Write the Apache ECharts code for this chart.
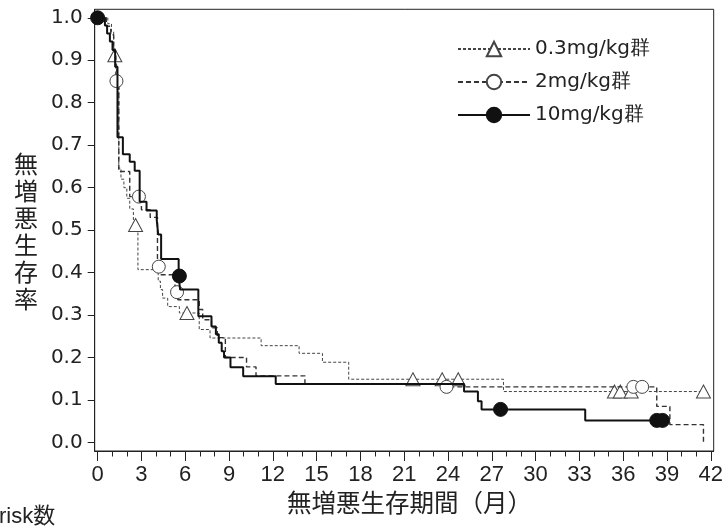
<!DOCTYPE html>
<html><head><meta charset="utf-8">
<script src="https://cdn.jsdelivr.net/npm/echarts@6/dist/echarts.min.js"></script>
<style>html,body{margin:0;padding:0;background:#fff}#c{width:726px;height:529px}</style>
</head><body><div id="c"></div>
<script>
// ---- data ----
const seriesNames = ['0.3mg/kg群', '2mg/kg群', '10mg/kg群'];
const xTicks = [0, 3, 6, 9, 12, 15, 18, 21, 24, 27, 30, 33, 36, 39, 42];
const xMinorTicks = [0,1,2,3,4,5,6,7,8,9,10,11,12,13,14,15,16,17,18,19,20,21,22,23,24,25,26,27,28,29,30,31,32,33,34,35,36,37,38,39,40,41,42];
const yTicks = [0.0, 0.1, 0.2, 0.3, 0.4, 0.5, 0.6, 0.7, 0.8, 0.9, 1.0];

// 0.3mg/kg: event times (months) and survival after each event
const time03 = [0, 0.7, 0.95, 1.1, 1.3, 1.45, 1.6, 1.8, 2.0, 2.2, 2.45, 2.76, 4.15, 4.3, 4.45, 4.8, 5.6, 6.96, 7.7, 11.2, 13.8, 15.4, 17.2, 27.8];
const surv03 = [1.0, 0.986, 0.967, 0.912, 0.86, 0.646, 0.62, 0.6, 0.575, 0.55, 0.512, 0.407, 0.38, 0.36, 0.34, 0.32, 0.305, 0.266, 0.246, 0.228, 0.21, 0.189, 0.149, 0.12];
const cens03 = [1.18, 2.6, 6.12, 21.6, 23.6, 24.7, 35.4, 35.8, 36.55, 41.5];

// 2mg/kg
const time2 = [0, 0.6, 0.9, 1.1, 1.25, 1.45, 2.2, 3.0, 3.6, 4.1, 4.25, 5.3, 5.5, 6.96, 7.2, 7.8, 8.2, 8.75, 10.2, 10.85, 14.2, 23.8, 38.3, 39.2, 41.5];
const surv2 = [1.0, 0.98, 0.96, 0.92, 0.851, 0.638, 0.579, 0.548, 0.53, 0.414, 0.395, 0.354, 0.336, 0.313, 0.289, 0.27, 0.247, 0.2, 0.178, 0.157, 0.137, 0.131, 0.085, 0.042, 0.0];
const cens2 = [1.29, 2.83, 4.19, 5.44, 23.9, 36.7, 37.3];

// 10mg/kg
const time10 = [0, 0.5, 0.65, 0.84, 1.02, 1.2, 1.36, 1.73, 2.2, 2.54, 2.88, 3.35, 4.05, 4.15, 4.35, 5.55, 5.65, 6.9, 7.8, 8.1, 8.3, 8.5, 8.66, 9.1, 9.97, 12.2, 25.1, 26.05, 26.3, 33.4];
const surv10 = [1.0, 0.982, 0.963, 0.944, 0.924, 0.885, 0.719, 0.679, 0.661, 0.64, 0.567, 0.546, 0.524, 0.49, 0.432, 0.392, 0.36, 0.297, 0.273, 0.255, 0.235, 0.215, 0.2, 0.177, 0.156, 0.138, 0.12, 0.097, 0.078, 0.052];
const cens10 = [0, 5.6, 27.6, 38.3, 38.7];

// ---- build step data (events + censor marks at current level) ----
function buildData(times, survs, cens) {
  const pts = times.map((t, i) => ({ t: t, v: survs[i], c: false }));
  cens.forEach(tc => {
    let lvl = survs[0];
    for (let i = 0; i < times.length; i++) { if (times[i] <= tc) lvl = survs[i]; }
    pts.push({ t: tc, v: lvl, c: true });
  });
  pts.sort((a, b) => a.t - b.t || (a.c ? 1 : 0) - (b.c ? 1 : 0));
  return pts.map(p => p.c ? { value: [p.t, p.v] } : { value: [p.t, p.v], symbol: 'none' });
}

const FONT = 'DejaVu Sans';
const chart = echarts.init(document.getElementById('c'), null, { renderer: 'canvas' });

const commonAxis = { type: 'value', splitLine: { show: false } };

chart.setOption({
  animation: false,
  backgroundColor: '#fff',
  grid: { left: 94.7, right: 8, top: 9.3, bottom: 78, show: true, borderColor: '#222', borderWidth: 1, backgroundColor: 'transparent' },
  legend: {
    orient: 'vertical', left: 452, top: 34, itemWidth: 72, itemHeight: 18, itemGap: 13,
    textStyle: { fontFamily: FONT, fontSize: 20, color: '#222' },
    data: seriesNames
  },
  xAxis: [
    Object.assign({}, commonAxis, {
      min: -0.2, max: 42.2, position: 'bottom',
      axisLine: { show: true, onZero: false, lineStyle: { color: '#222', width: 1 } },
      axisTick: { show: true, length: 10, customValues: xTicks, lineStyle: { color: '#222' } },
      axisLabel: { customValues: xTicks, margin: 13, fontFamily: 'Liberation Sans', fontSize: 22, color: '#222' }
    }),
    Object.assign({}, commonAxis, {
      min: -0.2, max: 42.2, position: 'bottom',
      axisLine: { show: false, onZero: false },
      axisTick: { show: true, length: 5.5, customValues: xMinorTicks, lineStyle: { color: '#222' } },
      axisLabel: { show: false }
    })
  ],
  yAxis: Object.assign({}, commonAxis, {
    min: -0.02, max: 1.02,
    axisLine: { show: true, onZero: false, lineStyle: { color: '#222', width: 1 } },
    axisTick: { show: true, length: 7, customValues: yTicks, lineStyle: { color: '#222' } },
    axisLabel: { customValues: yTicks, margin: 12, fontFamily: FONT, fontSize: 20, color: '#222', formatter: v => v.toFixed(1) }
  }),
  series: [
    {
      name: seriesNames[0], type: 'line', step: 'end', data: buildData(time03, surv03, cens03),
      symbol: 'triangle', symbolSize: [14, 13], showAllSymbol: true,
      lineStyle: { color: '#444', width: 1, type: [3, 2] },
      itemStyle: { color: '#fff', borderColor: '#444', borderWidth: 1 },
      emphasis: { disabled: true }, z: 3
    },
    {
      name: seriesNames[1], type: 'line', step: 'end', data: buildData(time2, surv2, cens2),
      symbol: 'circle', symbolSize: 13, showAllSymbol: true,
      lineStyle: { color: '#333', width: 1.4, type: [5, 3] },
      itemStyle: { color: '#fff', borderColor: '#444', borderWidth: 1 },
      emphasis: { disabled: true }, z: 4
    },
    {
      name: seriesNames[2], type: 'line', step: 'end', data: buildData(time10, surv10, cens10),
      symbol: 'circle', symbolSize: 14, showAllSymbol: true,
      lineStyle: { color: '#111', width: 2 },
      itemStyle: { color: '#111', borderColor: '#111', borderWidth: 1 },
      emphasis: { disabled: true }, z: 5
    }
  ],
  graphic: [
    { type: 'text', left: 14, top: 150, style: { text: '無\n増\n悪\n生\n存\n率', fontFamily: 'Noto Sans CJK JP', fontSize: 24, lineHeight: 27, fill: '#222' } },
    { type: 'text', left: 287, top: 490, style: { text: '無増悪生存期間（月）', fontFamily: 'Noto Sans CJK JP', fontSize: 24.5, fill: '#222' } },
    { type: 'text', left: -1, top: 506, style: { text: 'risk数', fontFamily: 'Liberation Sans, Noto Sans CJK JP', fontSize: 22, fill: '#222' } }
  ]
});
</script>
</body></html>
